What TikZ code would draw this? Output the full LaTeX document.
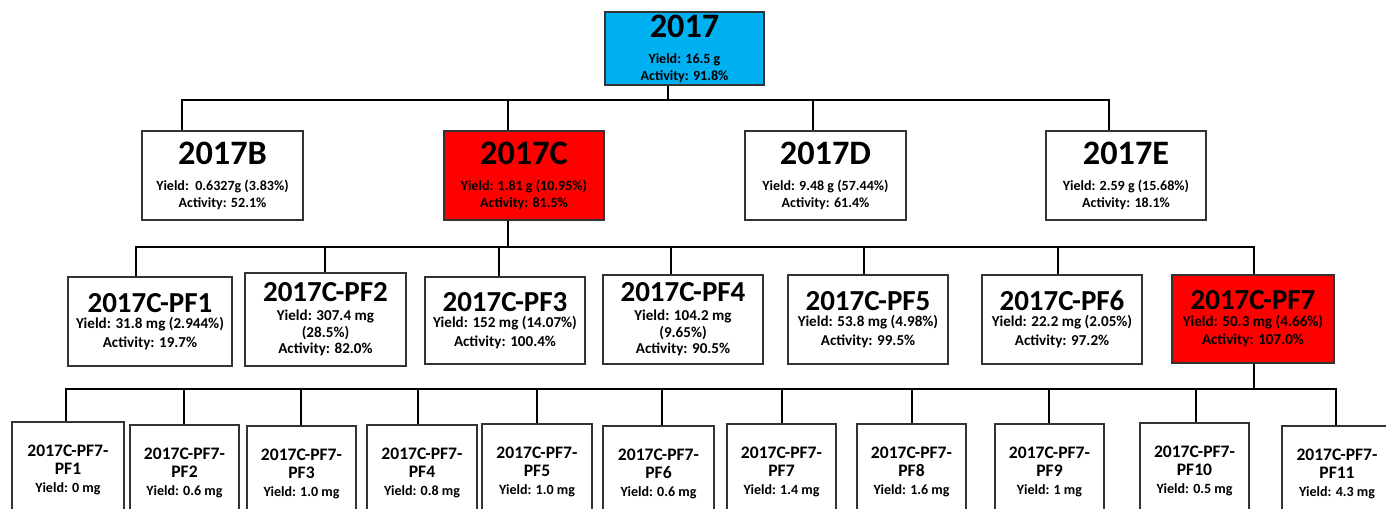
\documentclass[tikz,border=0pt]{standalone}
\usepackage{fontspec}
\setmainfont{Carlito}
\usepackage{tikz}
\usetikzlibrary{calc}

\definecolor{rootblue}{RGB}{0,176,240}
\definecolor{hitred}{RGB}{255,0,0}

\begin{document}
\begin{tikzpicture}[x=0.02cm, y=-0.02cm,
        fracbox/.style={rectangle, draw=black!80, line width=0.6pt, align=center, inner sep=0pt, font=\bfseries\fontsize{8}{9.8}\selectfont},
        subbox/.style={fracbox, font=\bfseries\fontsize{8.6}{10.8}\selectfont},
        tightbox/.style={fracbox, font=\bfseries\fontsize{8.6}{9.4}\selectfont},
        tipbox/.style={fracbox, minimum height=96*\px cm, font=\bfseries\fontsize{8}{10.4}\selectfont},
        link/.style={line width=1.6pt}
    ]

    \def\px{0.02} % cm per pixel
    \def\bigttl#1{{\fontsize{19.5}{20}\selectfont #1}}
    \def\midttl#1{{\fontsize{16.5}{17}\selectfont #1}}
    \def\tipttl#1{{\fontsize{10}{11}\selectfont #1}}

    \useasboundingbox (0,0) rectangle (1386,508);
    \clip (0,0) rectangle (1386,508);

    % Level 1
    \node[fracbox, fill=rootblue, minimum width=159*\px cm, minimum height=73*\px cm] (root) at (684.5,48.5) {\bigttl{2017}\\[5pt] Yield: 16.5 g\\ Activity: 91.8\%};

    % Level 2
    \node[fracbox, minimum width=161*\px cm, minimum height=89*\px cm] (f17b) at (222.5,175.5) {\bigttl{2017B}\\[5pt] Yield:\ \ 0.6327g (3.83\%)\\ Activity: 52.1\%};
    \node[fracbox, fill=hitred, minimum width=160*\px cm, minimum height=89*\px cm] (f17c) at (524,175.5) {\bigttl{2017C}\\[5pt] Yield: 1.81 g (10.95\%)\\ Activity: 81.5\%};
    \node[fracbox, minimum width=161*\px cm, minimum height=89*\px cm] (f17d) at (825.5,175.5) {\bigttl{2017D}\\[5pt] Yield: 9.48 g (57.44\%)\\ Activity: 61.4\%};
    \node[fracbox, minimum width=160*\px cm, minimum height=89*\px cm] (f17e) at (1126,175.5) {\bigttl{2017E}\\[5pt] Yield: 2.59 g (15.68\%)\\ Activity: 18.1\%};

    \coordinate (j0) at (668,100);
    \foreach \n/\x in {b/182, c/508, d/813, e/1109} {
        \coordinate (t\n) at (\x,100);
    }
    \draw[link] (root.south -| j0) -- (j0);
    \draw[link] (f17b.north -| tb) -- (tb) -- (te) -- (f17e.north -| te);
    \draw[link] (tc) -- (f17c.north -| tc);
    \draw[link] (td) -- (f17d.north -| td);

    % Level 3
    \node[subbox, minimum width=164*\px cm, minimum height=89*\px cm] (pf1) at (150,321.5) {\midttl{2017C-PF1}\\[-1.5pt] Yield: 31.8 mg (2.944\%)\\ Activity: 19.7\%};
    \node[tightbox, minimum width=161*\px cm, minimum height=93*\px cm] (pf2) at (325.5,319.5) {\midttl{2017C-PF2}\\[1.5pt] Yield: 307.4 mg\\ (28.5\%)\\ Activity: 82.0\%};
    \node[subbox, minimum width=160*\px cm, minimum height=87*\px cm] (pf3) at (505,320.5) {\midttl{2017C-PF3}\\[-1.5pt] Yield: 152 mg (14.07\%)\\ Activity: 100.4\%};
    \node[tightbox, minimum width=160*\px cm, minimum height=89*\px cm] (pf4) at (683,319.5) {\midttl{2017C-PF4}\\[1.5pt] Yield: 104.2 mg\\ (9.65\%)\\ Activity: 90.5\%};
    \node[subbox, minimum width=160*\px cm, minimum height=89*\px cm] (pf5) at (868,319.5) {\midttl{2017C-PF5}\\[-1.5pt] Yield: 53.8 mg (4.98\%)\\ Activity: 99.5\%};
    \node[subbox, minimum width=160*\px cm, minimum height=89*\px cm] (pf6) at (1062,319.5) {\midttl{2017C-PF6}\\[-1.5pt] Yield: 22.2 mg (2.05\%)\\ Activity: 97.2\%};
    \node[subbox, fill=hitred, minimum width=162*\px cm, minimum height=88*\px cm] (pf7) at (1253,319) {\midttl{2017C-PF7}\\[-1.5pt] Yield: 50.3 mg (4.66\%)\\ Activity: 107.0\%};

    \coordinate (j1) at (508,247);
    \foreach \i/\x in {1/136, 2/325, 3/499, 4/671, 5/864, 6/1058, 7/1254} {
        \coordinate (p\i) at (\x,247);
    }
    \draw[link] (f17c.south -| j1) -- (j1);
    \draw[link] (pf1.north -| p1) -- (p1) -- (p7) -- (pf7.north -| p7);
    \foreach \i in {2,...,6} {
        \draw[link] (p\i) -- (pf\i.north -| p\i);
    }

    % Level 4 (boxes run past the lower edge)
    \foreach \i/\x/\y/\w/\yl in {1/68/422/112/0 mg, 2/184.5/425/109/0.6 mg, 3/301.5/426/109/1.0 mg, 4/422/425/110/0.8 mg,
            5/537/424/110/1.0 mg, 6/658.5/426/111/0.6 mg, 7/781.5/424/109/1.4 mg, 8/911.5/424/109/1.6 mg,
            9/1049.5/424/109/1 mg, 10/1194.5/423/109/0.5 mg, 11/1337/426/110/4.3 mg} {
        \node[tipbox, minimum width=\w*\px cm] (pf7x\i) at (\x,\y+48) {\tipttl{2017C-PF7-}\\ \tipttl{PF\i}\\ Yield: \yl};
    }

    \coordinate (j2) at (1254,389);
    \foreach \i/\x in {1/66, 2/184, 3/301, 4/418, 5/537, 6/662, 7/782, 8/912, 9/1049, 10/1196, 11/1336} {
        \coordinate (q\i) at (\x,389);
    }
    \draw[link] (pf7.south -| j2) -- (j2);
    \draw[link] (pf7x1.north -| q1) -- (q1) -- (q11) -- (pf7x11.north -| q11);
    \foreach \i in {2,...,10} {
        \draw[link] (q\i) -- (pf7x\i.north -| q\i);
    }

\end{tikzpicture}
\end{document}
